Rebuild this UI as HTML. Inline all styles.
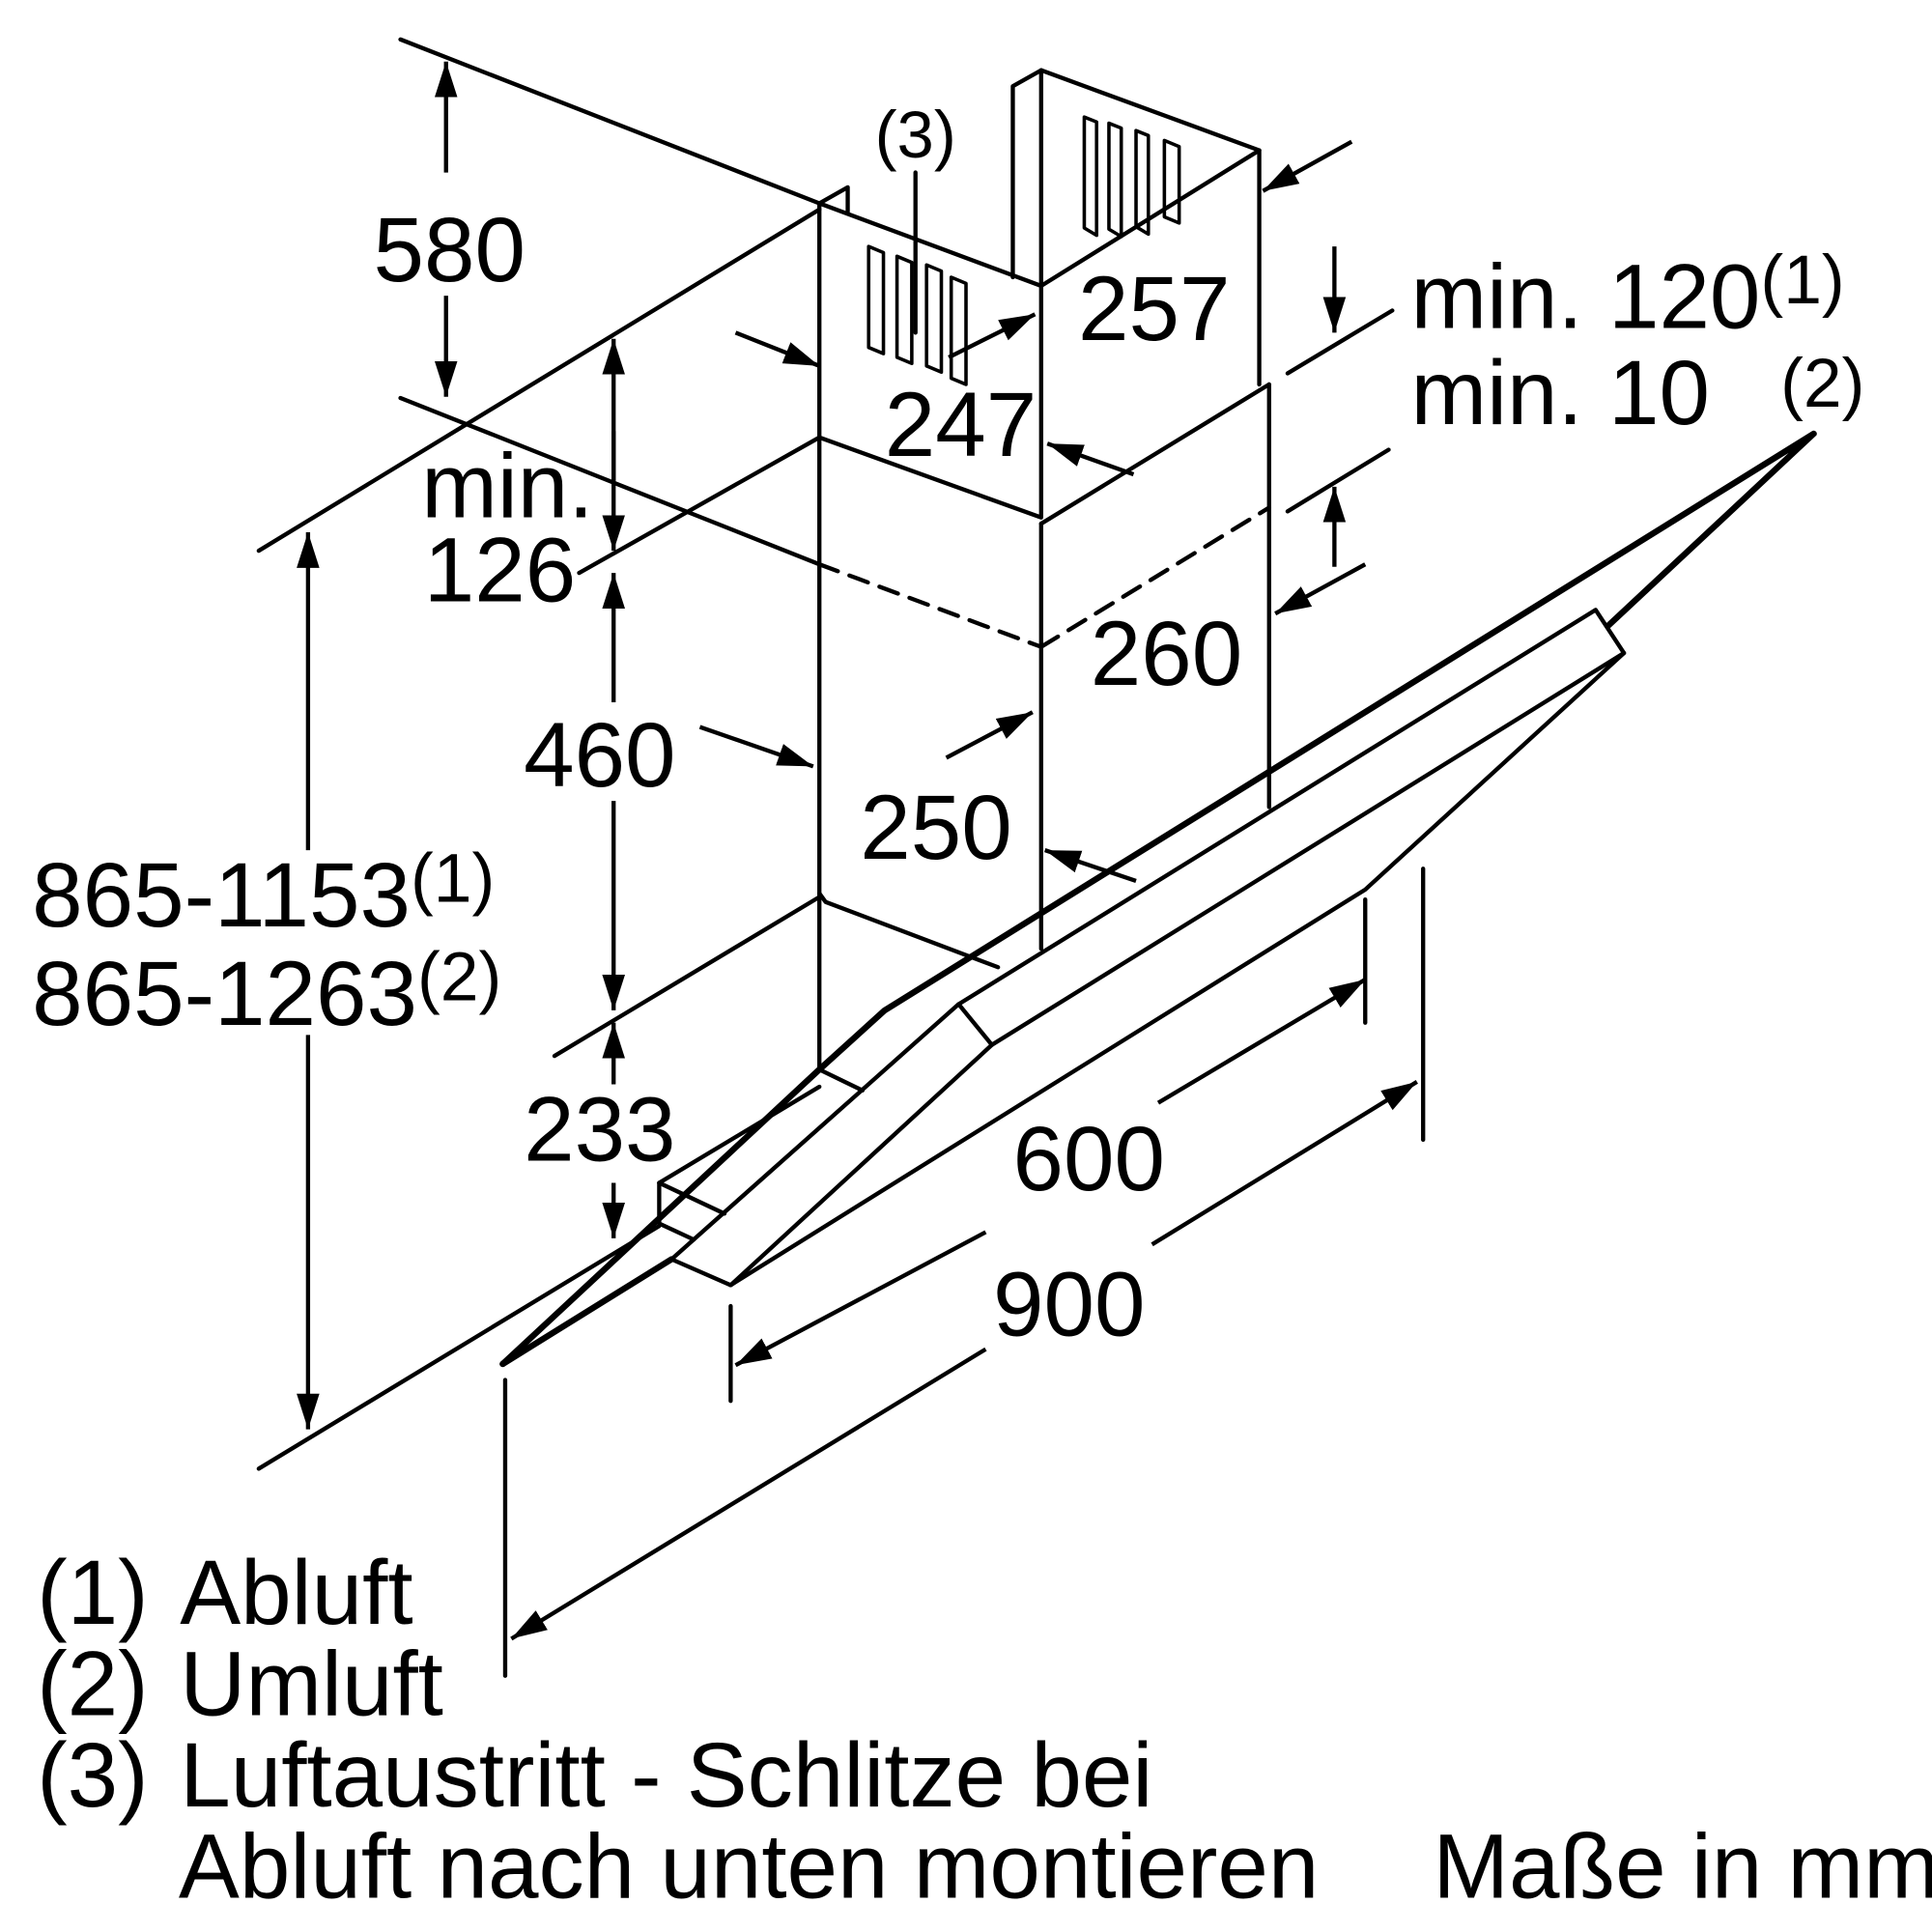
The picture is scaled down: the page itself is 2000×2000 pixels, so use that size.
<!DOCTYPE html>
<html><head><meta charset="utf-8"><style>
html,body{margin:0;padding:0;background:#fff}
svg{display:block}
text{font-family:"Liberation Sans",sans-serif;fill:#000}
</style></head><body>
<svg width="2000" height="2000" viewBox="0 0 1568 1568" xmlns="http://www.w3.org/2000/svg">
<defs>
<marker id="a" viewBox="0 0 10 10" refX="10" refY="5" markerWidth="8.5" markerHeight="8.5" markerUnits="strokeWidth" orient="auto-start-reverse"><path d="M0,1.8 L10,5 L0,8.2 z" fill="#000"/></marker>
</defs>
<g stroke="#000" stroke-width="3.4" fill="none" stroke-linejoin="round" stroke-linecap="round">
<!-- wall lines -->
<line x1="325" y1="32" x2="665" y2="165"/>
<line x1="325" y1="323" x2="665" y2="458"/>
<line x1="665" y1="458" x2="845" y2="525" stroke-dasharray="16,10"/>
<line x1="845" y1="525" x2="1030" y2="412" stroke-dasharray="16,10"/>
<line x1="210" y1="447" x2="665" y2="170"/>
<line x1="210" y1="1192" x2="535" y2="995"/>
<!-- upper chimney -->
<polyline points="665,165 688,152 688,172"/>
<polyline points="665,165 845,232 845,420 665,355 665,165"/>
<polyline points="822,225 822,70 845,57 1022,122 1022,312"/>
<line x1="845" y1="57" x2="845" y2="232"/>
<line x1="845" y1="232" x2="1022" y2="122"/>
<!-- lower chimney -->
<line x1="845" y1="425" x2="1030" y2="312"/>
<line x1="665" y1="355" x2="665" y2="868"/>
<line x1="845" y1="425" x2="845" y2="770"/>
<line x1="1030" y1="312" x2="1030" y2="655"/>
<polyline points="665,725 670,732 810,785"/>
<!-- vents -->
<g stroke-width="2.8">
<path d="M880,95 l10,4 v92 l-10,-6z"/><path d="M900,100 l10,4 v88 l-10,-6z"/><path d="M922,106 l10,4 v80 l-10,-6z"/><path d="M945,114 l12,5 v62 l-12,-5z"/>
<path d="M705,200 l12,5 v82 l-12,-5z"/><path d="M728,208 l12,5 v82 l-12,-5z"/><path d="M752,215 l12,5 v82 l-12,-5z"/><path d="M772,225 l12,5 v82 l-12,-5z"/>
</g>
<line x1="743" y1="140" x2="743" y2="270"/>
<!-- hood -->
<polyline points="408,1107 665,868 718,820 1472,352 1305,508" stroke-width="5"/>
<line x1="408" y1="1107" x2="545" y2="1022" stroke-width="5"/>
<polyline points="545,1022 593,1043 1108,722 1318,530"/>
<polygon points="1295,495 1318,530 805,848 778,815"/>
<line x1="778" y1="815" x2="545" y2="1022"/>
<line x1="805" y1="848" x2="593" y2="1043"/>
<line x1="665" y1="868" x2="700" y2="885"/>
<!-- small box -->
<line x1="535" y1="960" x2="535" y2="993"/>
<line x1="535" y1="960" x2="665" y2="882"/>
<line x1="535" y1="960" x2="588" y2="985"/>
<line x1="535" y1="993" x2="563" y2="1006"/>
<!-- extension lines -->
<line x1="470" y1="465" x2="665" y2="355"/>
<line x1="450" y1="857" x2="665" y2="728"/>
<line x1="1108" y1="730" x2="1108" y2="830"/>
<line x1="593" y1="1060" x2="593" y2="1137"/>
<line x1="1155" y1="705" x2="1155" y2="925"/>
<line x1="410" y1="1120" x2="410" y2="1360"/>
<line x1="1045" y1="303" x2="1130" y2="252"/>
<line x1="1045" y1="415" x2="1127" y2="365"/>
</g>
<!-- dimension arrows -->
<g stroke="#000" stroke-width="3.4" fill="none" marker-end="url(#a)">
<line x1="362" y1="140" x2="362" y2="50" />
<line x1="362" y1="240" x2="362" y2="322"/>
<line x1="498" y1="390" x2="498" y2="275"/>
<line x1="498" y1="350" x2="498" y2="447"/>
<line x1="498" y1="570" x2="498" y2="465"/>
<line x1="498" y1="650" x2="498" y2="820"/>
<line x1="498" y1="880" x2="498" y2="830"/>
<line x1="498" y1="960" x2="498" y2="1005"/>
<line x1="250" y1="690" x2="250" y2="432"/>
<line x1="250" y1="840" x2="250" y2="1160"/>
<line x1="1097" y1="115" x2="1025" y2="155"/>
<line x1="1083" y1="200" x2="1083" y2="270"/>
<line x1="1083" y1="460" x2="1083" y2="395"/>
<line x1="1108" y1="458" x2="1035" y2="498"/>
<line x1="597" y1="270" x2="665" y2="297"/>
<line x1="770" y1="290" x2="840" y2="255"/>
<line x1="920" y1="385" x2="850" y2="360"/>
<line x1="568" y1="590" x2="660" y2="622"/>
<line x1="768" y1="615" x2="838" y2="578"/>
<line x1="922" y1="715" x2="848" y2="690"/>
<line x1="800" y1="1000" x2="597" y2="1108"/>
<line x1="940" y1="895" x2="1108" y2="795"/>
<line x1="800" y1="1095" x2="415" y2="1330"/>
<line x1="935" y1="1010" x2="1150" y2="878"/>
</g>
<!-- labels -->
<g font-size="74">
<text x="303" y="228">580</text>
<text x="710" y="128" font-size="54">(3)</text>
<text x="875" y="276">257</text>
<text x="718" y="370">247</text>
<text x="342" y="420">min.</text>
<text x="344" y="488">126</text>
<text x="885" y="556">260</text>
<text x="425" y="638">460</text>
<text x="698" y="697">250</text>
<text x="425" y="942">233</text>
<text x="822" y="966">600</text>
<text x="806" y="1084">900</text>
<text x="26" y="752">865-1153<tspan font-size="56" dy="-20">(1)</tspan></text>
<text x="26" y="832">865-1263<tspan font-size="56" dy="-20">(2)</tspan></text>
<text x="1145" y="266">min. 120<tspan font-size="56" dy="-20">(1)</tspan></text>
<text x="1145" y="344">min. 10</text>
<text x="1445" y="330" font-size="56">(2)</text>
</g>
<g font-size="74">
<text x="30" y="1318">(1)</text><text x="146" y="1318">Abluft</text>
<text x="30" y="1392">(2)</text><text x="146" y="1392">Umluft</text>
<text x="30" y="1466">(3)</text><text x="146" y="1466">Luftaustritt - Schlitze bei</text>
<text x="145" y="1540">Abluft nach unten montieren</text>
<text x="1163" y="1540">Maße in mm</text>
</g>
</svg>
</body></html>
